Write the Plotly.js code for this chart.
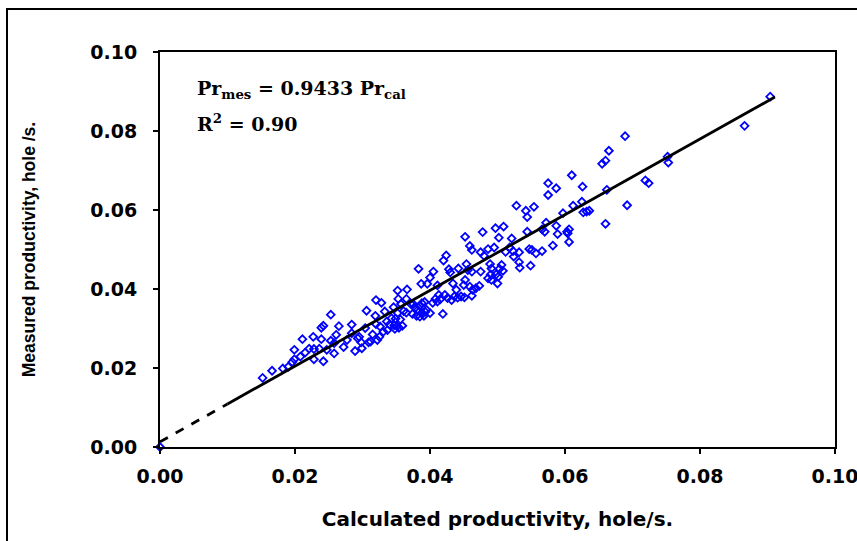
<!DOCTYPE html>
<html><head><meta charset="utf-8">
<script src="https://cdn.plot.ly/plotly-3.0.1.min.js"></script>
<style>
html,body{margin:0;padding:0;background:#fff;overflow:hidden;}
#frame{position:absolute;left:6px;top:8px;width:900px;height:600px;border:2px solid #000;pointer-events:none;z-index:5;}
#chart{position:absolute;left:0;top:0;width:857px;height:541px;}
</style></head><body>
<div id="chart"></div><div id="frame"></div>
<script>
// Calculated productivity (x) and measured productivity (y), hole/s
const calcX = [
0.0152,0.0166,0.0182,0.0190,0.0196,0.0199,0.0199,0.0208,0.0211,0.0215,0.0221,0.0227,0.0228,0.0228,0.0236,0.0239,0.0239,0.0242,0.0242,0.0247,
0.0253,0.0253,0.0258,0.0258,0.0261,0.0265,0.0272,0.0277,0.0284,0.0284,0.0289,0.0293,0.0295,0.0298,0.0299,0.0304,0.0306,0.0309,0.0312,0.0315,
0.0319,0.0320,0.0322,0.0325,0.0326,0.0328,0.0331,0.0333,0.0336,0.0337,0.0340,0.0343,0.0346,0.0347,0.0351,0.0352,0.0320,
0.0352,0.0353,0.0366,0.0365,0.0357,0.0361,0.0365,0.0356,0.0359,0.0354,0.0348,0.0349,0.0371,0.0375,0.0378,0.0382,0.0385,0.0388,0.0392,0.0374,
0.0380,0.0385,0.0388,0.0393,0.0395,0.0391,0.0400,0.0387,0.0383,0.0396,0.0400,0.0405,0.0411,0.0413,0.0408,0.0404,0.0411,0.0415,0.0419,0.0420,
0.0424,0.0422,0.0426,0.0428,0.0430,0.0432,0.0434,0.0439,0.0442,0.0441,0.0446,0.0450,0.0452,0.0454,0.0456,0.0459,0.0452,0.0436,0.0451,0.0459,
0.0478,0.0497,0.0509,0.0502,0.0521,0.0544,0.0566,0.0589,0.0582,0.0462,0.0475,0.0480,0.0486,0.0495,0.0512,0.0518,0.0523,0.0524,0.0532,0.0547,
0.0551,0.0557,0.0566,0.0532,0.0533,0.0549,0.0489,0.0491,0.0506,0.0503,0.0508,0.0475,0.0490,0.0498,0.0501,0.0486,0.0491,0.0500,0.0462,0.0473,
0.0468,0.0463,0.0462,
0.0575,0.0587,0.0575,0.0626,0.0662,0.0612,0.0625,0.0597,0.0627,0.0632,0.0636,0.0692,0.0660,0.0572,0.0587,0.0606,0.0603,0.0604,0.0570,0.0606,
0.0528,0.0542,0.0544,0.0554,0.0689,0.0665,0.0655,0.0660,0.0610,0.0719,0.0724,0.0752,0.0753,0.0904,0.0866,0.0000
];
const measY = [
0.0175,0.0193,0.0199,0.0203,0.0215,0.0222,0.0246,0.0229,0.0273,0.0239,0.0249,0.0279,0.0248,0.0222,0.0249,0.0273,0.0302,0.0307,0.0217,0.0246,
0.0335,0.0269,0.0263,0.0237,0.0284,0.0306,0.0253,0.0271,0.0310,0.0288,0.0243,0.0275,0.0279,0.0265,0.0250,0.0301,0.0345,0.0265,0.0267,0.0285,
0.0332,0.0311,0.0271,0.0279,0.0305,0.0365,0.0292,0.0343,0.0318,0.0296,0.0310,0.0326,0.0354,0.0308,0.0306,0.0339,0.0372,
0.0396,0.0375,0.0399,0.0375,0.0362,0.0344,0.0340,0.0323,0.0307,0.0302,0.0299,0.0325,0.0363,0.0362,0.0352,0.0347,0.0357,0.0364,0.0367,0.0337,
0.0332,0.0330,0.0340,0.0342,0.0347,0.0332,0.0339,0.0413,0.0451,0.0413,0.0429,0.0444,0.0409,0.0385,0.0375,0.0365,0.0368,0.0374,0.0337,0.0472,
0.0485,0.0385,0.0377,0.0450,0.0442,0.0372,0.0414,0.0398,0.0452,0.0378,0.0381,0.0410,0.0423,0.0463,0.0448,0.0509,0.0532,0.0381,0.0379,0.0406,
0.0544,0.0554,0.0558,0.0530,0.0528,0.0545,0.0551,0.0539,0.0510,0.0499,0.0493,0.0484,0.0501,0.0505,0.0494,0.0505,0.0496,0.0482,0.0493,0.0501,
0.0499,0.0490,0.0496,0.0468,0.0454,0.0459,0.0463,0.0452,0.0461,0.0451,0.0446,0.0444,0.0437,0.0437,0.0431,0.0427,0.0423,0.0414,0.0444,0.0408,
0.0402,0.0398,0.0383,
0.0668,0.0655,0.0638,0.0659,0.0651,0.0611,0.0621,0.0592,0.0594,0.0596,0.0598,0.0612,0.0565,0.0568,0.0560,0.0551,0.0545,0.0541,0.0545,0.0519,
0.0611,0.0598,0.0582,0.0608,0.0787,0.0750,0.0717,0.0725,0.0688,0.0675,0.0668,0.0735,0.0720,0.0887,0.0813,0.0000
];
// Fitted line (dashed part extrapolated to origin)
const fitDashX = [0.0, 0.01];
const fitDashY = [0.0013, 0.0109];
const fitSolidX = [0.01, 0.0911];
const fitSolidY = [0.0109, 0.0886];
const tickVals = [0, 0.02, 0.04, 0.06, 0.08, 0.10];
const tickText = ["0.00", "0.02", "0.04", "0.06", "0.08", "0.10"];

const traces = [
  {x: calcX, y: measY, type: 'scatter', mode: 'markers', cliponaxis: false,
   marker: {symbol: 'diamond-open', size: 6, color: '#0000ff', line: {width: 1.8, color: '#0000ff'}}, hoverinfo: 'x+y'},
  {x: fitDashX, y: fitDashY, type: 'scatter', mode: 'lines', line: {color: '#000', width: 2.8, dash: 'dash'}},
  {x: fitSolidX, y: fitSolidY, type: 'scatter', mode: 'lines', line: {color: '#000', width: 2.8}}
];
const axisFont = {family: 'DejaVu Sans, sans-serif', size: 19, color: '#000', weight: 'bold'};
const layout = {
  width: 857, height: 541,
  margin: {l: 160, r: 22, t: 52, b: 94},
  paper_bgcolor: 'rgba(0,0,0,0)', plot_bgcolor: '#fff',
  showlegend: false,
  xaxis: {range: [0, 0.1], tickvals: tickVals, ticktext: tickText, showgrid: false, zeroline: false,
    showline: true, linecolor: '#000', linewidth: 2, mirror: true, ticks: 'outside', ticklen: 5, tickwidth: 2, tickcolor: '#000',
    tickfont: axisFont, ticklabelstandoff: 6, ticklabeloverflow: 'allow',
    title: {text: '<b>Calculated productivity, hole/s.</b>', font: {family: 'DejaVu Sans, sans-serif', size: 20, color: '#000'}, standoff: 26}},
  yaxis: {range: [0, 0.1], tickvals: tickVals, ticktext: tickText, showgrid: false, zeroline: false,
    showline: true, linecolor: '#000', linewidth: 2, mirror: true, ticks: 'outside', ticklen: 5, tickwidth: 2, tickcolor: '#000',
    tickfont: axisFont, ticklabelstandoff: 12,
    title: {text: '<b>Measured productivity, hole /s.</b>', font: {family: 'Liberation Sans, Arial, sans-serif', size: 17.5, color: '#000'}, standoff: 50}},
  annotations: [
    {xref: 'paper', yref: 'paper', x: 0.052, y: 0.904, xanchor: 'left', yanchor: 'middle', showarrow: false,
     text: '<b>Pr<sub>mes</sub> = 0.9433 Pr<sub>cal</sub></b>', font: {family: 'DejaVu Serif, serif', size: 19, color: '#000'}},
    {xref: 'paper', yref: 'paper', x: 0.052, y: 0.82, xanchor: 'left', yanchor: 'middle', showarrow: false,
     text: '<b>R<sup>2</sup> = 0.90</b>', font: {family: 'DejaVu Serif, serif', size: 19, color: '#000'}}
  ]
};
Plotly.newPlot('chart', traces, layout, {displayModeBar: false, staticPlot: true});
</script></body></html>
